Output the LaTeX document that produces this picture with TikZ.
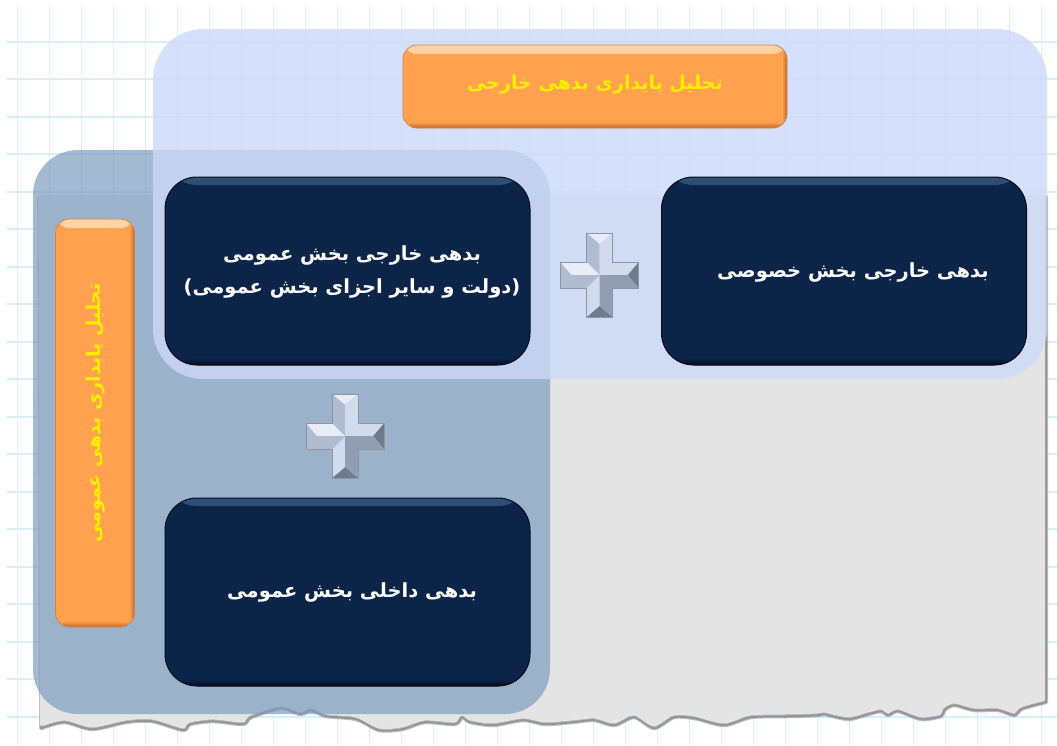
\documentclass[tikz,border=0pt]{standalone}
\usepackage{fontspec}
\newfontfamily\fa[Script=Arabic]{DejaVu Sans}
\TeXXeTstate=1

\definecolor{gridc}{RGB}{216,239,247}
\definecolor{paper}{RGB}{228,228,228}
\definecolor{paperedge}{RGB}{140,140,140}
\definecolor{leftreg}{RGB}{125,157,192}
\definecolor{topreg}{RGB}{205,217,249}
\definecolor{navy}{RGB}{11,36,72}
\definecolor{navyhi}{RGB}{48,78,118}
\definecolor{navylo}{RGB}{3,12,28}
\definecolor{orng}{RGB}{255,161,78}
\definecolor{orhi}{RGB}{255,212,165}
\definecolor{orlo}{RGB}{190,105,40}
\definecolor{ylw}{RGB}{255,238,0}
\definecolor{crA}{RGB}{232,237,247}
\definecolor{crB}{RGB}{210,219,236}
\definecolor{crC}{RGB}{176,188,208}
\definecolor{crD}{RGB}{146,157,178}
\definecolor{crE}{RGB}{112,122,142}

\tikzset{
  gridline/.style={draw=gridc, line width=1.6pt},
  debtbox/.style={fill=navy, draw=navylo, line width=1pt, rounded corners=32pt,
    minimum width=365pt, minimum height=188pt, inner sep=0pt,
    path picture={
      \shade[top color=navyhi, bottom color=navy]
        (path picture bounding box.north west) rectangle ([yshift=-8pt]path picture bounding box.north east);
      \shade[top color=navy, bottom color=navylo]
        ([yshift=7pt]path picture bounding box.south west) rectangle (path picture bounding box.south east);
    }},
  orbox/.style={fill=orng, draw=orlo!80, line width=0.8pt, rounded corners=14pt, inner sep=0pt,
    path picture={
      \shade[top color=orhi, bottom color=orng]
        (path picture bounding box.north west) rectangle ([yshift=-9pt]path picture bounding box.north east);
      \shade[top color=orng, bottom color=orlo]
        ([yshift=6pt]path picture bounding box.south west) rectangle (path picture bounding box.south east);
      \shade[left color=orng, right color=orlo]
        ([xshift=-5pt]path picture bounding box.south east) rectangle (path picture bounding box.north east);
    }},
  boxtxt/.style={text=white, font=\fa\bfseries\fontsize{19.5}{33}\selectfont, align=center, inner sep=0pt},
  titletxt/.style={text=ylw, font=\fa\bfseries\fontsize{19}{24}\selectfont, inner sep=0pt},
  crossedge/.style={draw=crE!80, line width=0.5pt, line join=round},
  bevelcross/.pic={
    % upper arm
    \fill[crA] (-13,-42) -- (13,-42) -- (0,-31) -- cycle;
    \fill[crC] (-13,-13) -- (-13,-42) -- (0,-31) -- (0,0) -- cycle;
    \fill[crB] (13,-13) -- (13,-42) -- (0,-31) -- (0,0) -- cycle;
    % lower arm
    \fill[crE] (-13,42) -- (13,42) -- (0,31) -- cycle;
    \fill[crB] (-13,13) -- (-13,42) -- (0,31) -- (0,0) -- cycle;
    \fill[crD] (13,13) -- (13,42) -- (0,31) -- (0,0) -- cycle;
    % left arm
    \fill[crC] (-39,-13) -- (-39,13) -- (-28,0) -- cycle;
    \fill[crA] (-13,-13) -- (-39,-13) -- (-28,0) -- (0,0) -- cycle;
    \fill[crC] (-13,13) -- (-39,13) -- (-28,0) -- (0,0) -- cycle;
    % right arm
    \fill[crE] (39,-13) -- (39,13) -- (28,0) -- cycle;
    \fill[crB] (13,-13) -- (39,-13) -- (28,0) -- (0,0) -- cycle;
    \fill[crD] (13,13) -- (39,13) -- (28,0) -- (0,0) -- cycle;
    \draw[crossedge] (-13,-42) -- (13,-42) -- (13,-13) -- (39,-13) -- (39,13) -- (13,13)
      -- (13,42) -- (-13,42) -- (-13,13) -- (-39,13) -- (-39,-13) -- (-13,-13) -- cycle;
  }
}

\begin{document}
\begin{tikzpicture}[x=1pt,y=-1pt]
\useasboundingbox (0,0) rectangle (1057,745);
\fill[white] (0,0) rectangle (1057,745);

% squared background
\foreach \i in {0,...,32} \draw[gridline] ({17.3+32*\i},7) -- ({17.3+32*\i},745);
\foreach \j in {0,...,18} \draw[gridline] (7,{41.7+37.5*\j}) -- (1057,{41.7+37.5*\j});

% grey sheet with torn lower edge
\path[save path=\sheet] (38,195) -- (40,726) -- plot[smooth, tension=0.45] coordinates {
  (40,726) (63,720) (91,727) (125,720) (151,719) (182,728) (189,722) (212,719)
  (242,722) (250,715) (280,706) (299,712) (310,708) (325,714) (355,717) (378,728)
  (401,727) (424,720) (454,722) (461,715) (469,720) (492,723) (522,718) (544,722)
  (571,720) (593,718) (613,723) (633,715) (653,726) (673,715) (693,716) (723,723)
  (750,715) (787,714) (817,713) (823,712) (847,717) (867,712) (880,709) (887,713)
  (897,709) (920,717) (940,714) (943,708) (953,703) (973,708) (997,708) (1013,713)
  (1020,707) (1033,703) (1045,700)} -- (1045,195) -- cycle;
\begin{scope}[transform canvas={shift={(1.2pt,-2.2pt)}}]
  \draw[paperedge, line width=4pt, opacity=0.55, line join=round, use path=\sheet];
  \draw[paperedge, line width=2pt, opacity=0.8, line join=round, use path=\sheet];
\end{scope}
\fill[paper, use path=\sheet];

% translucent group panels
\fill[leftreg, opacity=0.7, rounded corners=45pt] (33,150) rectangle (550,714);
\fill[topreg, opacity=0.8, rounded corners=50pt] (153,29) rectangle (1047,379);

% headings
\node[orbox, minimum width=384pt, minimum height=83pt] (hext) at (595,86.5) {};
\node[titletxt] (hextT) at (595,85) {\beginR تحلیل پایداری بدهی خارجی\endR};
\node[orbox, minimum width=79pt, minimum height=408pt] (hpub) at (95,423) {};
\node[titletxt, rotate=90] (hpubT) at (96,413) {\beginR تحلیل پایداری بدهی عمومی\endR};

% debt components
\node[debtbox] (pubext) at (347.5,271) {};
\node[debtbox] (prvext) at (844,271) {};
\node[debtbox] (pubdom) at (347.5,592) {};
\node[boxtxt] (pubextT) at (352,271.5) {\beginR بدهی خارجی بخش عمومی\endR\\\beginR (دولت و سایر اجزای بخش عمومی)\endR};
\node[boxtxt] (prvextT) at (853,272) {\beginR بدهی خارجی بخش خصوصی\endR};
\node[boxtxt] (pubdomT) at (352,592) {\beginR بدهی داخلی بخش عمومی\endR};

% plus signs
\pic at (599.5,275) {bevelcross};
\pic at (345,436) {bevelcross};
\end{tikzpicture}
\end{document}
